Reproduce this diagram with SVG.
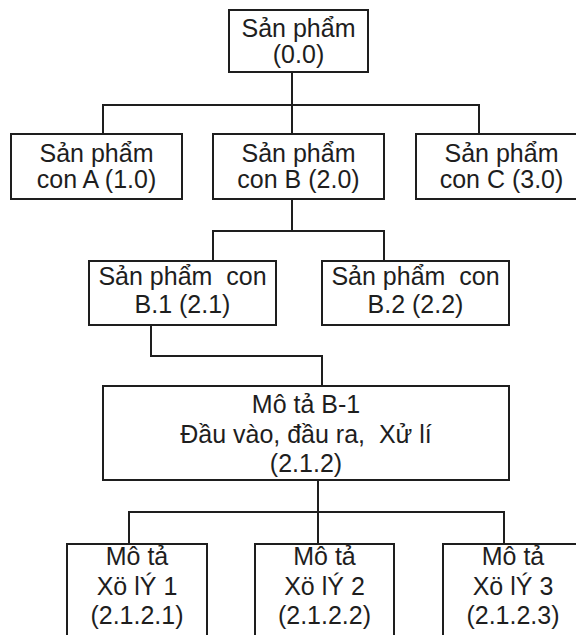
<svg xmlns="http://www.w3.org/2000/svg" width="576" height="635" viewBox="0 0 576 635">
  <style>
    .box { fill: #ffffff; stroke: #1e1e1e; stroke-width: 2; }
    .wire { fill: none; stroke: #1e1e1e; stroke-width: 2; }
    text { font-family: "Liberation Sans", Arial, sans-serif; font-size: 25px; fill: #1e1e1e; text-anchor: middle; }
  </style>
  <rect width="576" height="635" fill="#ffffff"/>

  <!-- connectors -->
  <g id="connectors">
    <path class="wire" d="M292,72 V134 M103,134 V105 H479 V134"/>
    <path class="wire" d="M292,199 V231 M213,261 V231 H384 V261"/>
    <path class="wire" d="M151,325 V356 H322 V386"/>
    <path class="wire" d="M318,480 V544 M129,544 V512 H504 V544"/>
  </g>

  <g id="n-0-0">
    <rect class="box" x="229" y="10" width="139" height="62"/>
    <text x="298.5" y="37">Sản phẩm</text>
    <text x="298.5" y="63">(0.0)</text>
  </g>

  <g id="n-1-0">
    <rect class="box" x="11" y="134" width="171" height="65"/>
    <text x="96.5" y="162">Sản phẩm</text>
    <text x="96.5" y="188">con A (1.0)</text>
  </g>
  <g id="n-2-0">
    <rect class="box" x="213" y="134" width="171" height="65"/>
    <text x="298.5" y="162">Sản phẩm</text>
    <text x="298.5" y="188">con B (2.0)</text>
  </g>
  <g id="n-3-0">
    <rect class="box" x="416" y="134" width="171" height="65"/>
    <text x="501.5" y="162">Sản phẩm</text>
    <text x="501.5" y="188">con C (3.0)</text>
  </g>

  <g id="n-2-1">
    <rect class="box" x="89" y="261" width="187" height="64"/>
    <text x="182.5" y="285" xml:space="preserve">Sản phẩm  con</text>
    <text x="182.5" y="313">B.1 (2.1)</text>
  </g>
  <g id="n-2-2">
    <rect class="box" x="322" y="261" width="187" height="64"/>
    <text x="415.5" y="285" xml:space="preserve">Sản phẩm  con</text>
    <text x="415.5" y="313">B.2 (2.2)</text>
  </g>

  <g id="n-2-1-2">
    <rect class="box" x="103" y="386" width="406" height="94"/>
    <text x="306" y="413">Mô tả B-1</text>
    <text x="306" y="443" xml:space="preserve">Đầu vào, đầu ra,  Xử lí</text>
    <text x="306" y="472">(2.1.2)</text>
  </g>

  <g id="n-2-1-2-1">
    <rect class="box" x="67" y="544" width="140" height="100"/>
    <text x="137" y="565">Mô tả</text>
    <text x="137" y="595">Xö lÝ 1</text>
    <text x="137" y="624">(2.1.2.1)</text>
  </g>
  <g id="n-2-1-2-2">
    <rect class="box" x="255" y="544" width="139" height="100"/>
    <text x="324.5" y="565">Mô tả</text>
    <text x="324.5" y="595">Xö lÝ 2</text>
    <text x="324.5" y="624">(2.1.2.2)</text>
  </g>
  <g id="n-2-1-2-3">
    <rect class="box" x="443" y="544" width="140" height="100"/>
    <text x="513" y="565">Mô tả</text>
    <text x="513" y="595">Xö lÝ 3</text>
    <text x="513" y="624">(2.1.2.3)</text>
  </g>
</svg>
